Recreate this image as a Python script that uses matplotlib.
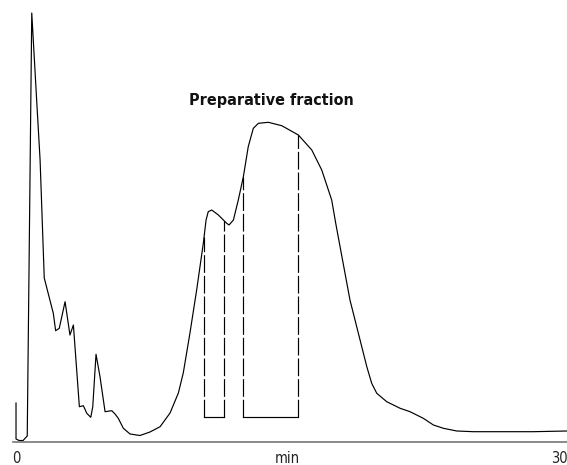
import numpy as np
import matplotlib
matplotlib.use("Agg")
import matplotlib.pyplot as plt

plt.rcParams['font.family'] = ['DejaVu Sans']
plt.rcParams['font.stretch'] = 'condensed'

# chromatogram trace (time in min, detector response in arbitrary units)
time = [0.0, 0.0, 0.17, 0.39, 0.62, 0.87, 1.14, 1.33, 1.56, 2.06, 2.19, 2.39,
        2.71, 2.98, 3.17, 3.50, 3.72, 3.91, 4.13, 4.24, 4.42, 4.64, 4.92, 5.29,
        5.47, 5.65, 5.93, 6.30, 6.85, 7.40, 7.96, 8.51, 8.97, 9.24, 9.61, 9.98,
        10.35, 10.50, 10.62, 10.81, 11.18, 11.64, 11.77, 12.01, 12.28, 12.56,
        12.83, 13.11, 13.39, 13.94, 14.68, 15.60, 16.34, 16.89, 17.44, 17.68,
        18.45, 19.38, 19.65, 19.93, 20.48, 21.22, 21.77, 22.50, 23.06, 23.61,
        24.35, 25.27, 28.56, 30.44]
signal = [39, 3, 1.5, 1.5, 6, 429, 342, 282, 164, 128.7, 111.3, 113.7,
          140.3, 107, 117, 35.3, 36.3, 28.7, 24.7, 35.3, 87.7, 65.3, 30.3, 31.3,
          28, 23.7, 13.7, 8, 6.5, 10, 15.3, 29, 49, 69, 109, 152,
          199, 222, 230.3, 232, 227, 218.7, 217, 222, 242, 265.3,
          295.3, 313.7, 318.7, 319.7, 316.3, 307, 292, 272, 242, 217,
          142, 75.3, 58.7, 48.7, 40.3, 33.7, 30.3, 23.7, 17, 13.7,
          11, 10.3, 10.3, 11]

# collected fractions (start, end in min)
frac_start = [10.39, 12.56]
frac_end = [11.51, 15.60]
frac_floor = 24.7

fig = plt.figure(figsize=(5.67, 4.65), dpi=100)
ax = fig.add_axes([13.3 / 567, 23 / 465, 1 - 13.3 / 567, 442 / 465])

ax.plot(time, signal, color='black', lw=0.85, clip_on=False)

for s, e in zip(frac_start, frac_end):
    top_s = np.interp(s, time, signal)
    top_e = np.interp(e, time, signal)
    ax.plot([s, s], [frac_floor, top_s], color='black', lw=0.85, dashes=(15, 2.5))
    ax.plot([e, e], [frac_floor, top_e], color='black', lw=0.85, dashes=(15, 2.5))
    ax.plot([s, e], [frac_floor, frac_floor], color='black', lw=0.85)

ax.text(14.12, 341, 'Preparative fraction', ha='center', va='center',
        fontsize=11.5, fontweight='bold', fontstretch='condensed', color='#111111')

ax.set_xlim(-0.15, 30.44)
ax.set_ylim(0, 442)
ax.set_xticks([0, 15, 30], ['0', 'min', '30'])
ax.tick_params(axis='x', length=0, pad=6.5, labelsize=10.5, labelcolor='#222222')
ax.set_yticks([])
for side in ['top', 'right', 'left']:
    ax.spines[side].set_visible(False)
ax.spines['bottom'].set_color('#777777')
ax.spines['bottom'].set_linewidth(1.2)

fig.savefig('out.png', dpi=100)
